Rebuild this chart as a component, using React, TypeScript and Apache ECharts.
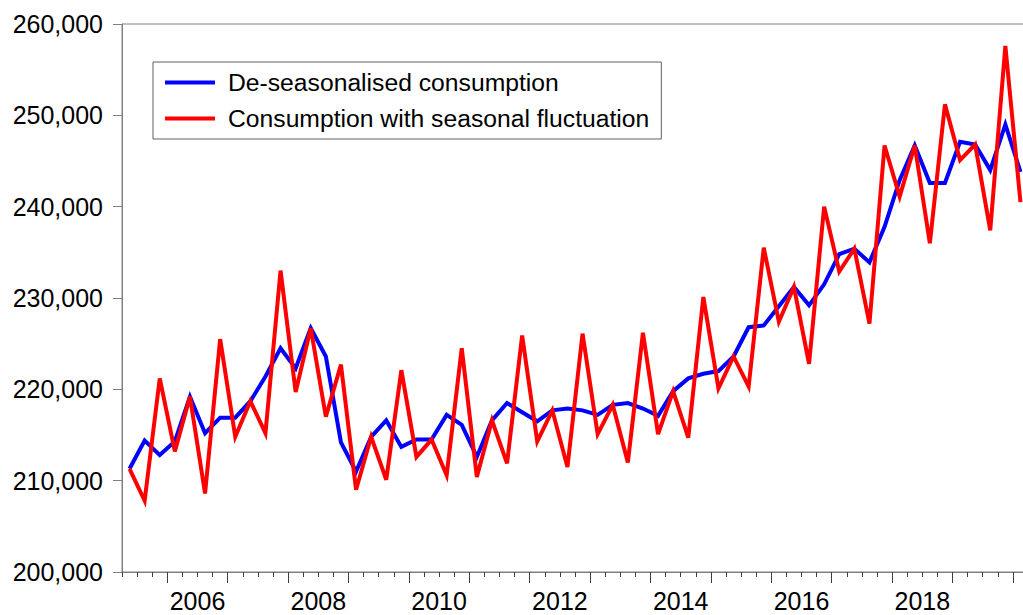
import React, { useEffect, useRef } from 'react';
import * as echarts from 'echarts';

const quarters = [
  '2005Q2', '2005Q3', '2005Q4',
  '2006Q1', '2006Q2', '2006Q3', '2006Q4',
  '2007Q1', '2007Q2', '2007Q3', '2007Q4',
  '2008Q1', '2008Q2', '2008Q3', '2008Q4',
  '2009Q1', '2009Q2', '2009Q3', '2009Q4',
  '2010Q1', '2010Q2', '2010Q3', '2010Q4',
  '2011Q1', '2011Q2', '2011Q3', '2011Q4',
  '2012Q1', '2012Q2', '2012Q3', '2012Q4',
  '2013Q1', '2013Q2', '2013Q3', '2013Q4',
  '2014Q1', '2014Q2', '2014Q3', '2014Q4',
  '2015Q1', '2015Q2', '2015Q3', '2015Q4',
  '2016Q1', '2016Q2', '2016Q3', '2016Q4',
  '2017Q1', '2017Q2', '2017Q3', '2017Q4',
  '2018Q1', '2018Q2', '2018Q3', '2018Q4',
  '2019Q1', '2019Q2', '2019Q3', '2019Q4',
  '2020Q1',
];

const deseasonalised = [
  211300, 214400, 212800,
  214300, 219200, 215200, 216900,
  216900, 218700, 221400, 224500,
  222300, 226700, 223600, 214200,
  211000, 214800, 216600, 213700,
  214500, 214500, 217200, 216100,
  212600, 216600, 218500, 217500,
  216500, 217700, 217900, 217700,
  217200, 218300, 218500, 217900,
  217100, 219800, 221200, 221700,
  222000, 223600, 226800, 227000,
  229100, 231200, 229200, 231500,
  234800, 235400, 233900, 237800,
  242900, 246700, 242600, 242600,
  247100, 246800, 244000, 249000,
  243800,
];

const withSeasonal = [
  211300, 207800, 221200,
  213200, 219200, 208600, 225500,
  214800, 218700, 215200, 233000,
  219700, 226700, 217000, 222700,
  209000, 214800, 210100, 222100,
  212600, 214500, 210600, 224500,
  210400, 216600, 211900, 225900,
  214300, 217700, 211500, 226100,
  215100, 218300, 212000, 226200,
  215100, 219800, 214700, 230100,
  220100, 223600, 220300, 235500,
  227400, 231200, 222800, 240000,
  232900, 235400, 227200, 246700,
  241100, 246700, 236000, 251200,
  245100, 246800, 237400, 257600,
  240500,
];

const seriesNames = ['De-seasonalised consumption', 'Consumption with seasonal fluctuation'];
const yearLabels = [2006, 2008, 2010, 2012, 2014, 2016, 2018];
const X_MIN = 2005.25;
const X_MAX = 2020.25;
const Y_MIN = 200000;
const Y_MAX = 260000;
const Y_STEP = 10000;

const FONT = "'Liberation Sans', Arial, Helvetica, sans-serif";

function quarterToX(q: string): number {
  const year = parseInt(q.slice(0, 4), 10);
  const qq = parseInt(q.slice(5), 10);
  return year + (qq - 1) / 4 + 0.125;
}

export default function App() {
  const ref = useRef<HTMLDivElement>(null);

  useEffect(() => {
    if (!ref.current) return;
    const chart = echarts.init(ref.current, null, { renderer: 'svg' });

    const quarterTicks: number[] = [];
    for (let k = 0; X_MIN + k * 0.25 <= X_MAX + 1e-9; k++) quarterTicks.push(X_MIN + k * 0.25);
    const yearTicks: number[] = [];
    for (let y = Math.ceil(X_MIN); y <= X_MAX; y++) yearTicks.push(y);
    const labelPos = yearLabels.map((y) => y + 0.5);

    const blueData = quarters.map((q, i) => [quarterToX(q), deseasonalised[i]]);
    const redData = quarters.map((q, i) => [quarterToX(q), withSeasonal[i]]);

    chart.setOption({
      animation: false,
      backgroundColor: '#ffffff',
      textStyle: { fontFamily: FONT },
      grid: {
        left: 122,
        top: 24,
        right: 0,
        bottom: 43,
        show: true,
        borderColor: '#808080',
        borderWidth: 1,
        backgroundColor: 'transparent',
      },
      legend: {
        orient: 'vertical',
        left: 153,
        top: 62,
        padding: [8, 12, 8, 12],
        itemGap: 11,
        itemWidth: 50,
        itemHeight: 4,
        icon: 'rect',
        borderColor: '#606060',
        borderWidth: 1,
        backgroundColor: '#ffffff',
        selectedMode: false,
        textStyle: { fontSize: 24.7, color: '#000', fontFamily: FONT, padding: [0, 0, 0, 8] },
        data: seriesNames,
      },
      xAxis: [
        {
          type: 'value',
          min: X_MIN,
          max: X_MAX,
          position: 'bottom',
          axisLine: { show: true, lineStyle: { color: '#808080', width: 1 } },
          axisTick: {
            show: true,
            inside: false,
            length: 5,
            lineStyle: { color: '#404040', width: 1 },
            customValues: quarterTicks,
          },
          axisLabel: {
            show: true,
            customValues: labelPos,
            formatter: (v: number) => String(Math.floor(v + 1e-6)),
            margin: 16,
            fontSize: 25,
            color: '#000',
            fontFamily: FONT,
          },
          splitLine: { show: false },
        },
        {
          type: 'value',
          min: X_MIN,
          max: X_MAX,
          position: 'bottom',
          axisLine: { show: false },
          axisTick: {
            show: true,
            inside: false,
            length: 11,
            lineStyle: { color: '#404040', width: 1 },
            customValues: yearTicks,
          },
          axisLabel: { show: false },
          splitLine: { show: false },
        },
      ],
      yAxis: {
        type: 'value',
        min: Y_MIN,
        max: Y_MAX,
        interval: Y_STEP,
        axisLine: { show: true, lineStyle: { color: '#808080', width: 1 } },
        axisTick: { show: true, inside: false, length: 9, lineStyle: { color: '#808080', width: 1 } },
        axisLabel: {
          formatter: (v: number) => v.toLocaleString('en-US'),
          margin: 19,
          fontSize: 25,
          color: '#000',
          fontFamily: FONT,
        },
        splitLine: { show: false },
      },
      series: [
        {
          name: seriesNames[0],
          type: 'line',
          xAxisIndex: 0,
          data: blueData,
          showSymbol: false,
          symbol: 'none',
          color: '#0000ff',
          lineStyle: { color: '#0000ff', width: 4, join: 'miter', miterLimit: 4 },
          z: 2,
        },
        {
          name: seriesNames[1],
          type: 'line',
          xAxisIndex: 0,
          data: redData,
          showSymbol: false,
          symbol: 'none',
          color: '#ff0000',
          lineStyle: { color: '#ff0000', width: 4, join: 'miter', miterLimit: 4 },
          z: 3,
        },
      ],
    });

    return () => chart.dispose();
  }, []);

  return (
    <div
      style={{
        position: 'fixed',
        left: 0,
        top: 0,
        width: 1023,
        height: 615,
        overflow: 'hidden',
        background: '#fff',
      }}
    >
      <div ref={ref} style={{ width: 1028, height: 615 }} />
    </div>
  );
}
